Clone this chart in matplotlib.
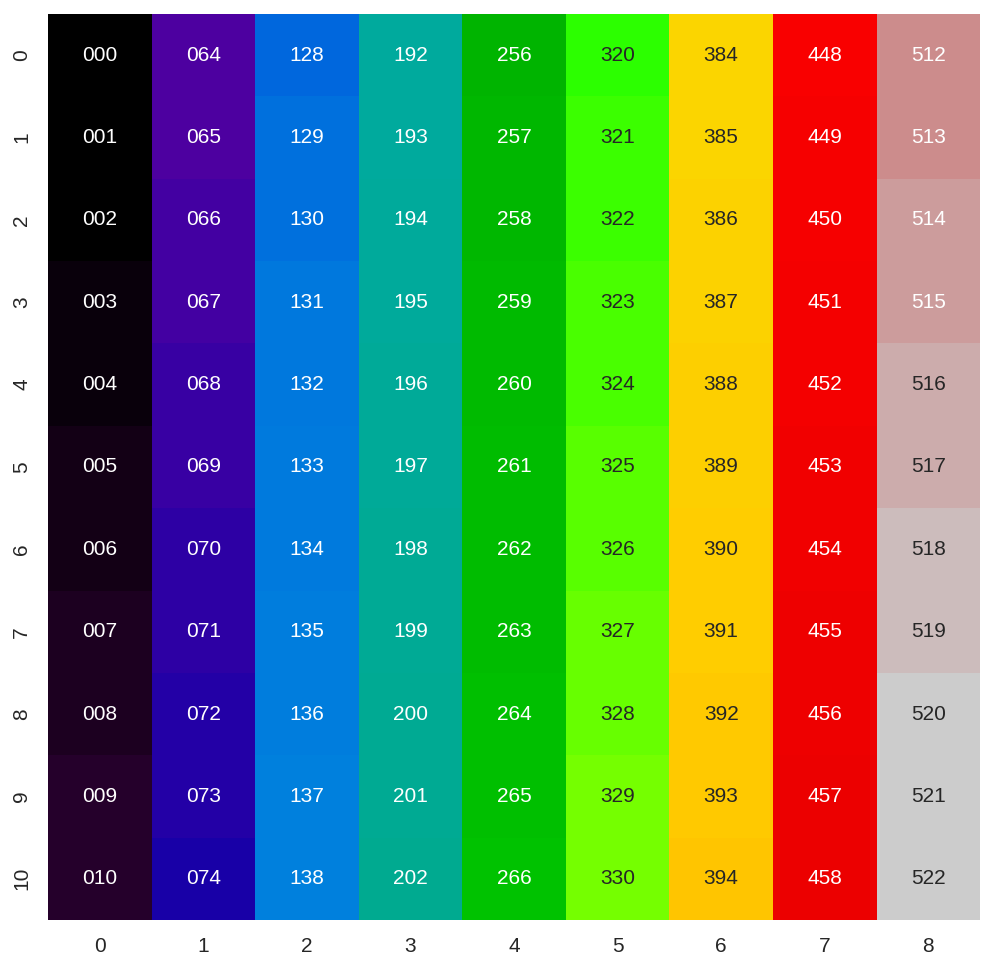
import matplotlib
matplotlib.use("Agg")
import matplotlib.pyplot as plt
import seaborn as sns
import numpy as np

# --- data ---
row_labels = ["0", "1", "2", "3", "4", "5", "6", "7", "8", "9", "10"]
col_labels = ["0", "1", "2", "3", "4", "5", "6", "7", "8"]
values = [
    [0, 64, 128, 192, 256, 320, 384, 448, 512],
    [1, 65, 129, 193, 257, 321, 385, 449, 513],
    [2, 66, 130, 194, 258, 322, 386, 450, 514],
    [3, 67, 131, 195, 259, 323, 387, 451, 515],
    [4, 68, 132, 196, 260, 324, 388, 452, 516],
    [5, 69, 133, 197, 261, 325, 389, 453, 517],
    [6, 70, 134, 198, 262, 326, 390, 454, 518],
    [7, 71, 135, 199, 263, 327, 391, 455, 519],
    [8, 72, 136, 200, 264, 328, 392, 456, 520],
    [9, 73, 137, 201, 265, 329, 393, 457, 521],
    [10, 74, 138, 202, 266, 330, 394, 458, 522],
]

sns.set_theme(style="white", font_scale=1.3)
plt.rcParams["font.family"] = ["Liberation Sans", "DejaVu Sans"]

fig, ax = plt.subplots(figsize=(9.93, 9.69), dpi=100)
fig.subplots_adjust(left=0.0483, right=0.987, top=0.9856, bottom=0.0506)

sns.heatmap(np.array(values), annot=True, fmt="03d", cmap="nipy_spectral",
            cbar=False, xticklabels=col_labels, yticklabels=row_labels,
            annot_kws={"fontsize": 15}, ax=ax)

ax.tick_params(axis="both", labelsize=15, length=0, pad=12)
plt.setp(ax.get_yticklabels(), rotation=90, va="center")

fig.savefig("out.png", dpi=100)
